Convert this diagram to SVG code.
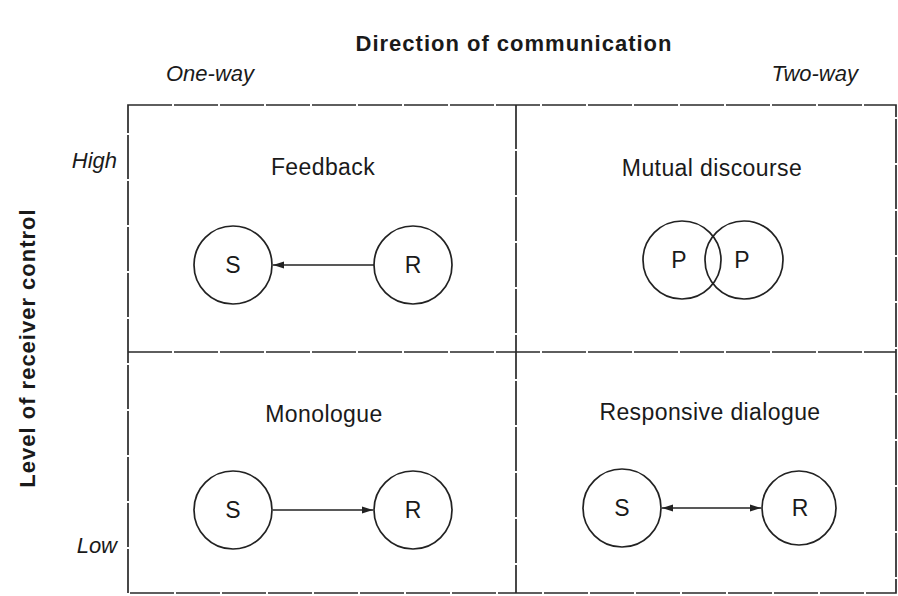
<svg xmlns="http://www.w3.org/2000/svg" width="898" height="596" viewBox="0 0 898 596">
  <style>
    text { font-family: "Liberation Sans", Arial, sans-serif; fill: #1a1a1a; }
    .title { font-size: 22px; font-weight: bold; letter-spacing: 1px; text-anchor: middle; }
    .axis { font-size: 22px; font-style: italic; }
    .cell { font-size: 23px; letter-spacing: 0.4px; text-anchor: middle; }
    .node { font-size: 23px; text-anchor: middle; }
    .grid { fill: none; stroke: #2a2a2a; stroke-width: 1.7; stroke-dasharray: 44 2; }
    .ring { fill: none; stroke: #222; stroke-width: 1.7; }
    .link { stroke: #222; stroke-width: 1.6; fill: none; }
  </style>
  <defs>
    <marker id="head" viewBox="0 0 11 10" refX="11" refY="5" markerWidth="11" markerHeight="10" markerUnits="userSpaceOnUse" orient="auto-start-reverse">
      <path d="M0,1.5 L11,5 L0,8.5 Z" fill="#222"/>
    </marker>
  </defs>

  <rect width="898" height="596" fill="#ffffff"/>

  <!-- axis headings -->
  <text class="title" x="514" y="51">Direction of communication</text>
  <text class="axis" x="166" y="81">One-way</text>
  <text class="axis" x="858" y="81" text-anchor="end">Two-way</text>
  <text class="title" transform="translate(35 348) rotate(-90)">Level of receiver control</text>
  <text class="axis" x="117" y="168" text-anchor="end">High</text>
  <text class="axis" x="117" y="553" text-anchor="end">Low</text>

  <!-- 2x2 grid -->
  <g id="grid">
    <rect class="grid" x="128" y="105" width="768" height="488"/>
    <line class="grid" x1="516" y1="105" x2="516" y2="593"/>
    <line class="grid" x1="128" y1="352" x2="896" y2="352"/>
  </g>

  <!-- Feedback -->
  <g id="feedback">
    <text class="cell" x="323" y="175">Feedback</text>
    <g id="feedback-s"><circle class="ring" cx="233" cy="265" r="39"/><text class="node" x="233" y="273">S</text></g>
    <g id="feedback-r"><circle class="ring" cx="413" cy="265" r="39"/><text class="node" x="413" y="273">R</text></g>
  </g>

  <!-- Mutual discourse -->
  <g id="mutual">
    <text class="cell" x="712" y="176">Mutual discourse</text>
    <g id="mutual-p1"><circle class="ring" cx="682" cy="260" r="39"/><text class="node" x="679" y="268">P</text></g>
    <g id="mutual-p2"><circle class="ring" cx="744" cy="260" r="39"/><text class="node" x="742" y="268">P</text></g>
  </g>

  <!-- Monologue -->
  <g id="monologue">
    <text class="cell" x="324" y="422">Monologue</text>
    <g id="monologue-s"><circle class="ring" cx="233" cy="510" r="39"/><text class="node" x="233" y="518">S</text></g>
    <g id="monologue-r"><circle class="ring" cx="413" cy="510" r="39"/><text class="node" x="413" y="518">R</text></g>
  </g>

  <!-- Responsive dialogue -->
  <g id="responsive">
    <text class="cell" x="710" y="420">Responsive dialogue</text>
    <g id="responsive-s"><circle class="ring" cx="622" cy="508" r="39"/><text class="node" x="622" y="516">S</text></g>
    <g id="responsive-r"><circle class="ring" cx="799" cy="508" r="37"/><text class="node" x="800" y="516">R</text></g>
  </g>

  <!-- connectors -->
  <g id="connectors">
    <line class="link" x1="374" y1="265" x2="273" y2="265" marker-end="url(#head)"/>
    <line class="link" x1="273" y1="510" x2="373" y2="510" marker-end="url(#head)"/>
    <line class="link" x1="662" y1="508" x2="761" y2="508" marker-start="url(#head)" marker-end="url(#head)"/>
  </g>
</svg>
